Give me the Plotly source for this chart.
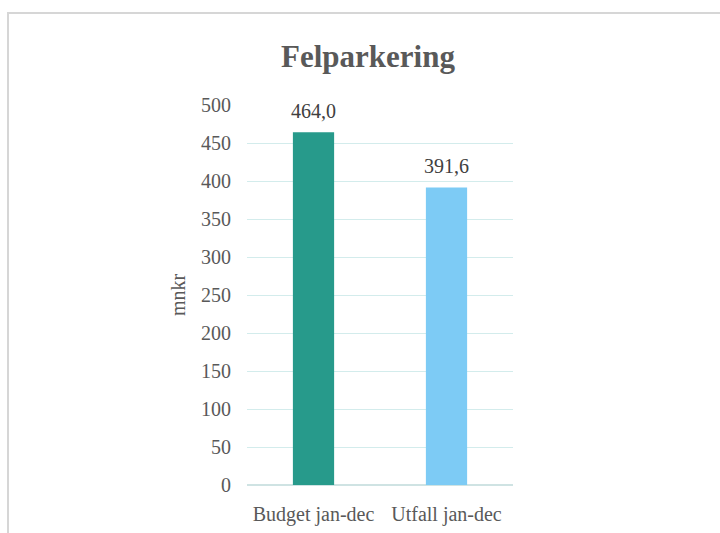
import plotly.graph_objects as go

categories = ["Budget jan-dec", "Utfall jan-dec"]
values = [464.0, 391.6]
bar_colors = ["#279a8b", "#7dcbf5"]
y_ticks = [0, 50, 100, 150, 200, 250, 300, 350, 400, 450, 500]

W, H = 720, 533
left, right, top, bottom = 247, 513, 105, 485

fig = go.Figure(
    go.Bar(
        x=categories,
        y=values,
        marker=dict(color=bar_colors, line=dict(width=0)),
        width=0.31,
    )
)

# value labels above each bar
for cat, v in zip(categories, values):
    fig.add_annotation(
        x=cat, y=v, xref="x", yref="y",
        text=f"{v:.1f}".replace(".", ","),
        showarrow=False, yanchor="middle", yshift=21,
        font=dict(family="Liberation Serif", size=20, color="#404040"),
    )

# outer chart frame
pw, ph = right - left, bottom - top
fig.add_shape(
    type="rect", xref="paper", yref="paper",
    x0=(8 - left) / pw, x1=(724 - left) / pw,
    y0=(bottom - 540) / ph, y1=(bottom - 13) / ph,
    line=dict(color="#d6d6d6", width=2), fillcolor="rgba(0,0,0,0)", layer="below",
)

fig.update_layout(
    width=W, height=H,
    margin=dict(l=left, r=W - right, t=top, b=H - bottom, pad=0, autoexpand=False),
    paper_bgcolor="white", plot_bgcolor="white",
    showlegend=False,
    title=dict(
        text="<b>Felparkering</b>",
        x=368 / W, xanchor="center", xref="container",
        y=1 - 56 / H, yanchor="middle", yref="container",
        font=dict(family="Liberation Serif", size=31, color="#595959"),
    ),
    font=dict(family="Liberation Serif", color="#595959"),
    xaxis=dict(
        showgrid=False, showline=False, zeroline=False, automargin=False,
        ticks="outside", ticklen=11, tickcolor="rgba(0,0,0,0)",
        tickfont=dict(size=20, color="#595959"),
    ),
    yaxis=dict(
        range=[0, 500], tickvals=y_ticks, showgrid=True, automargin=False,
        gridcolor="#d3ecec", gridwidth=1.3, zeroline=True,
        zerolinecolor="#cfe3e3", zerolinewidth=1.5,
        ticks="outside", ticklen=11, tickcolor="rgba(0,0,0,0)",
        tickfont=dict(size=20, color="#595959"),
        title=dict(text="mnkr", standoff=10, font=dict(size=20, color="#595959")),
    ),
)

fig.write_html("out.html")
